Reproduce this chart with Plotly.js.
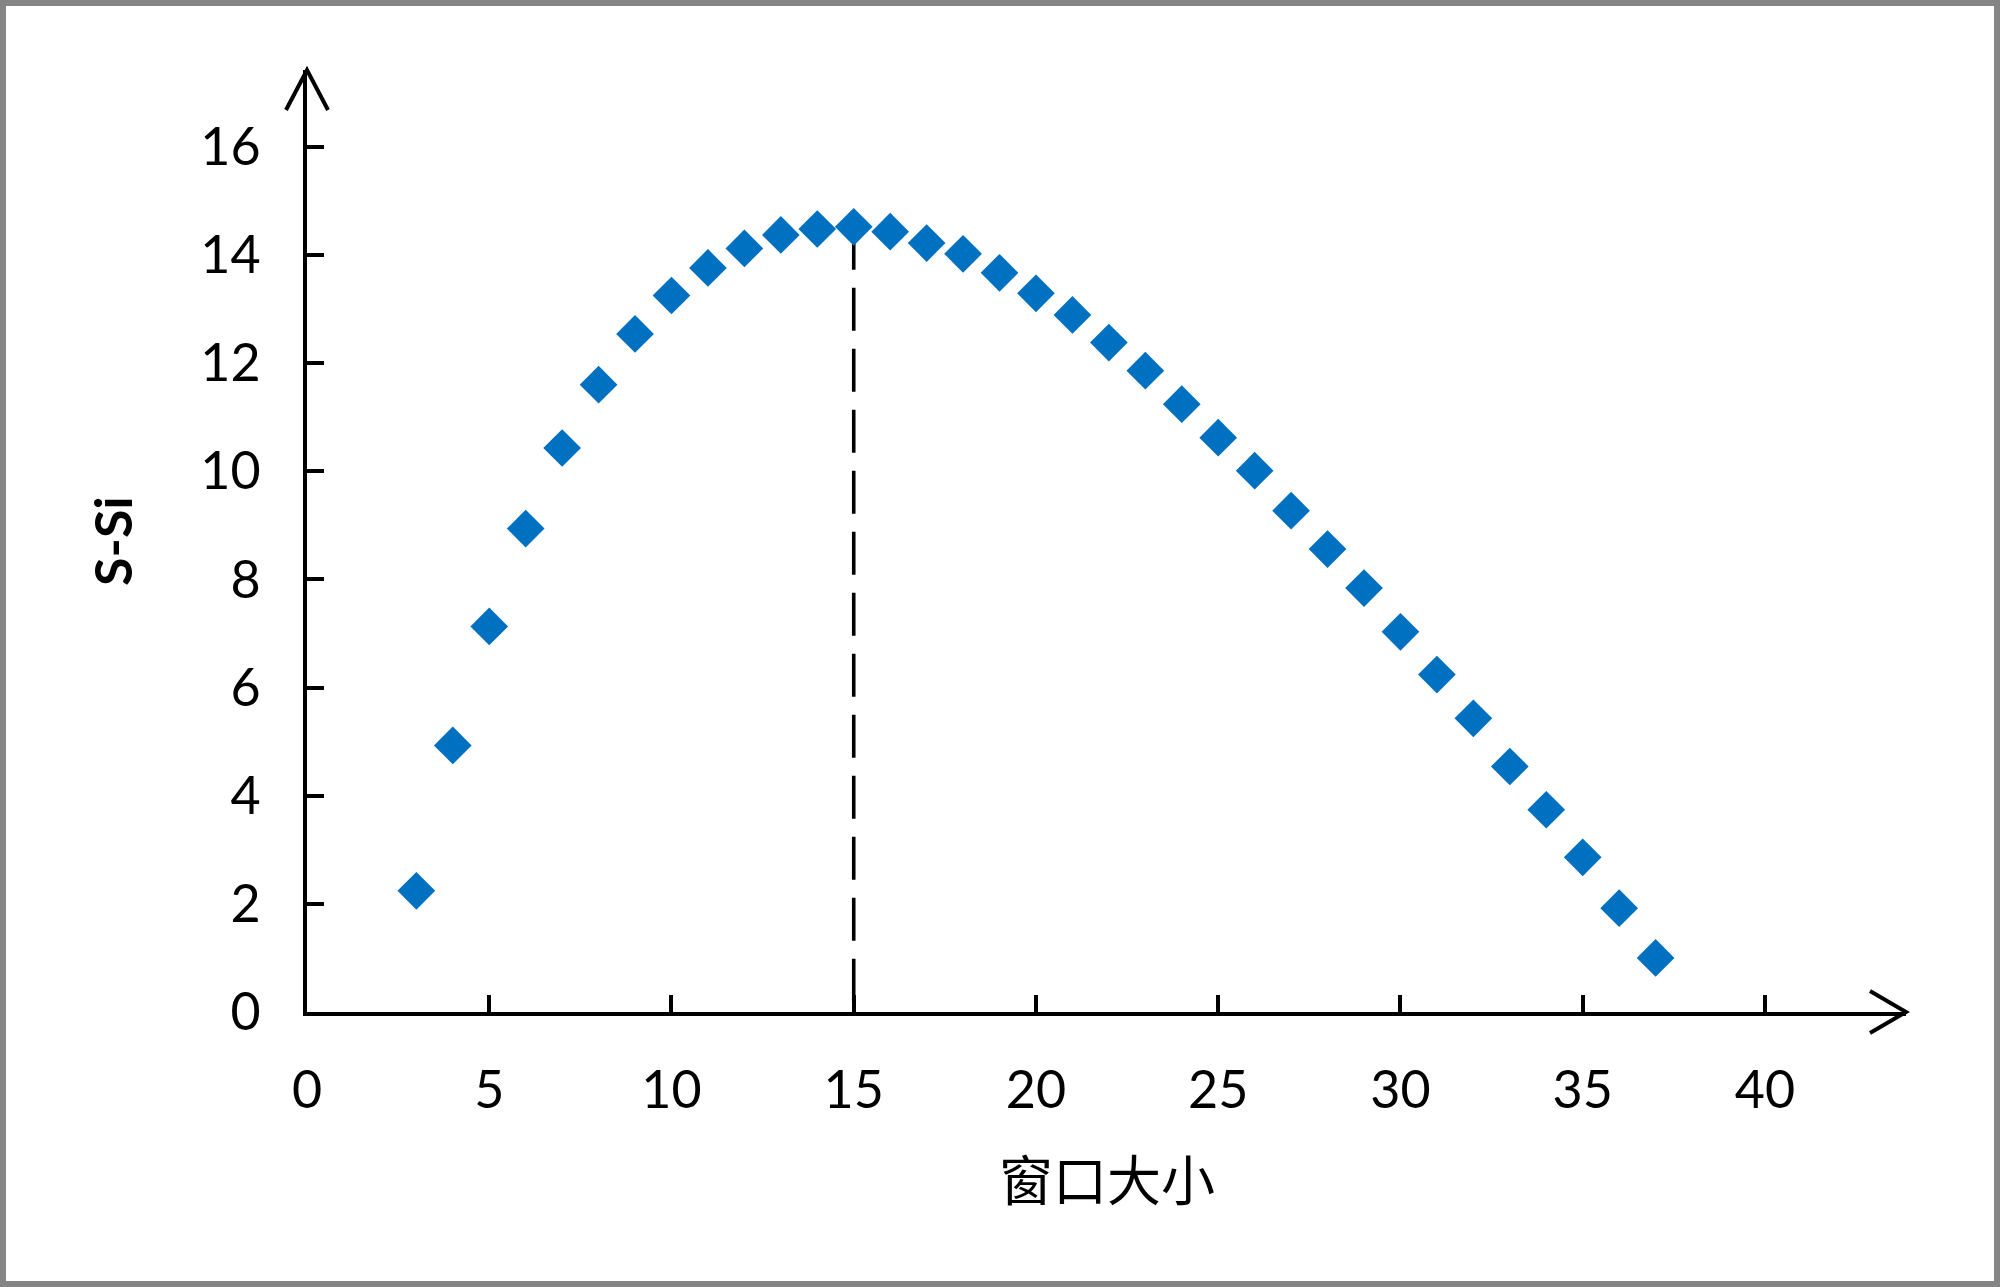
<!DOCTYPE html>
<html>
<head>
<meta charset="utf-8">
<script src="https://cdn.plot.ly/plotly-3.0.1.min.js"></script>
<style>
  html, body { margin: 0; padding: 0; background: #ffffff; }
  #wrap { position: relative; width: 2000px; height: 1287px; }
  #chart { width: 2000px; height: 1287px; }
  #frame { position: absolute; left: 0; top: 0; width: 2000px; height: 1287px;
           box-sizing: border-box; border: 6px solid #858585; pointer-events: none; }
</style>
</head>
<body>
<div id="wrap">
  <div id="chart"></div>
  <div id="frame"></div>
</div>
<script>
// Window size (x) and S-Si values (y)
const windowSize = [3, 4, 5, 6, 7, 8, 9, 10, 11, 12, 13, 14, 15, 16, 17, 18, 19, 20,
                    21, 22, 23, 24, 25, 26, 27, 28, 29, 30, 31, 32, 33, 34, 35, 36, 37];
const sMinusSi = [2.24, 4.93, 7.13, 8.94, 10.43, 11.60, 12.54, 13.25, 13.76, 14.12, 14.37, 14.48,
                  14.52, 14.43, 14.22, 14.02, 13.67, 13.29, 12.89, 12.38, 11.86, 11.24, 10.62,
                  10.01, 9.27, 8.56, 7.84, 7.03, 6.24, 5.43, 4.54, 3.74, 2.86, 1.92, 1.00];

// Optimal window marker (dashed vertical line)
const optimalX = [15, 15];
const optimalY = [sMinusSi[windowSize.indexOf(15)], 0];

const xTickVals = [0, 5, 10, 15, 20, 25, 30, 35, 40];
const yTickVals = [0, 2, 4, 6, 8, 10, 12, 14, 16];

const xTitle = '窗口大小';
const yTitle = 'S-Si';

const traces = [
  {
    x: optimalX, y: optimalY, type: 'scatter', mode: 'lines',
    line: { color: '#000000', width: 3.6, dash: '43px,18px' },
    hoverinfo: 'skip', showlegend: false
  },
  {
    x: windowSize, y: sMinusSi, type: 'scatter', mode: 'markers',
    marker: { symbol: 'diamond', size: 29, color: '#0070C0', line: { width: 0 } },
    showlegend: false
  }
];

const tickFont = { family: 'Lato, "Open Sans", sans-serif', size: 52, color: '#000000' };

const layout = {
  width: 2000, height: 1287,
  margin: { l: 307, r: 94, t: 70, b: 275, pad: 0 },
  paper_bgcolor: '#ffffff', plot_bgcolor: '#ffffff',
  showlegend: false,
  xaxis: {
    range: [0, 43.87], tickmode: 'array', tickvals: xTickVals,
    showgrid: false, zeroline: false,
    showline: true, linecolor: '#000000', linewidth: 4,
    ticks: 'inside', ticklen: 17, tickwidth: 4, tickcolor: '#000000',
    tickfont: tickFont, ticklabelstandoff: 30
  },
  yaxis: {
    range: [0, 17.42], tickmode: 'array', tickvals: yTickVals,
    showgrid: false, zeroline: false,
    showline: true, linecolor: '#000000', linewidth: 4,
    ticks: 'inside', ticklen: 17, tickwidth: 4, tickcolor: '#000000',
    tickfont: tickFont, ticklabelstandoff: 32
  },
  annotations: [
    {
      text: xTitle, xref: 'paper', yref: 'paper', x: 0.5003, y: -0.176,
      xanchor: 'center', yanchor: 'middle', showarrow: false,
      font: { family: '"Noto Sans CJK SC", sans-serif', size: 54, color: '#000000' }
    },
    {
      text: '<b>' + yTitle + '</b>', xref: 'paper', yref: 'paper', x: -0.122, y: 0.5,
      xanchor: 'center', yanchor: 'middle', showarrow: false, textangle: -90,
      font: { family: 'Lato, "Open Sans", sans-serif', size: 52, color: '#000000' }
    }
  ],
  shapes: [
    {
      type: 'path', xref: 'paper', yref: 'paper',
      xsizemode: 'pixel', ysizemode: 'pixel', xanchor: 0, yanchor: 1,
      path: 'M-21,-40 L0,0 L21,-40',
      line: { color: '#000000', width: 4 }
    },
    {
      type: 'path', xref: 'paper', yref: 'paper',
      xsizemode: 'pixel', ysizemode: 'pixel', xanchor: 1, yanchor: 0,
      path: 'M-36,21 L0,0 L-36,-21',
      line: { color: '#000000', width: 4 }
    }
  ]
};

Plotly.newPlot('chart', traces, layout, { displayModeBar: false, staticPlot: true });
</script>
</body>
</html>
